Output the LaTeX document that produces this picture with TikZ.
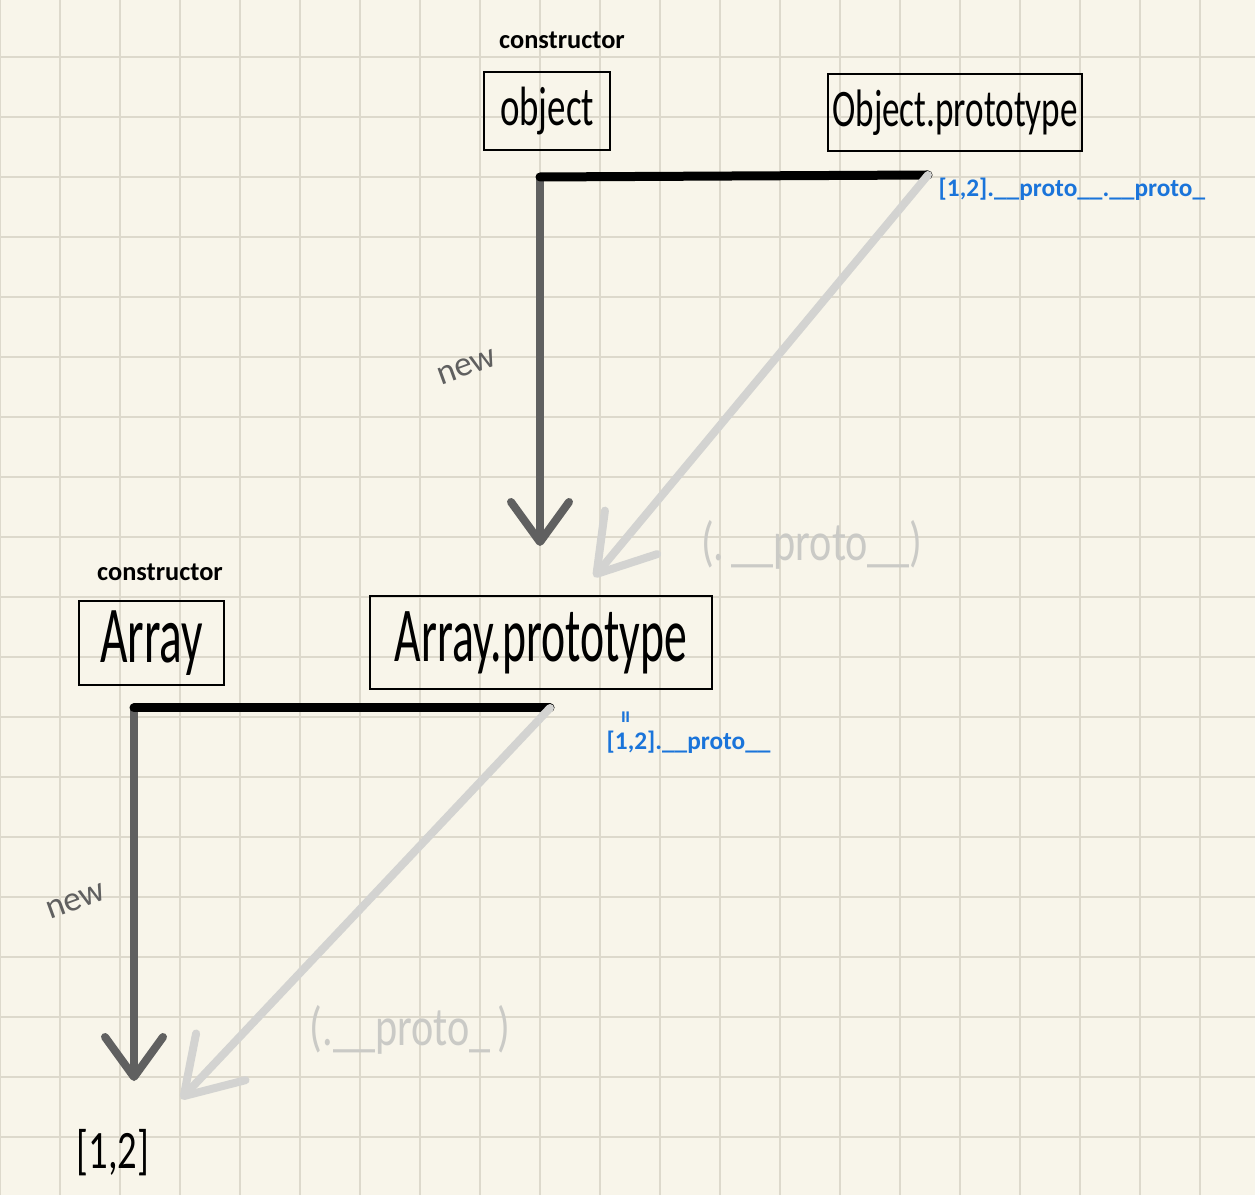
\documentclass[tikz,border=0pt]{standalone}
\usepackage{fontspec}
\setmainfont{Carlito}
\usepackage{graphicx}
\usepackage{xcolor}
\usetikzlibrary{arrows.meta,positioning}
\definecolor{paper}{HTML}{F8F5EA}
\definecolor{gridgray}{HTML}{DDD9CC}
\definecolor{newgray}{HTML}{606060}
\definecolor{protogray}{HTML}{D3D3D1}
\definecolor{ghostgray}{HTML}{CACAC6}
\definecolor{noteblue}{HTML}{1A74DA}
\newcommand{\tall}[2][1.5]{\scalebox{1}[#1]{#2}}

\begin{document}
\begin{tikzpicture}[x=0.1mm, y=-0.1mm,
  gridline/.style={gridgray, line width=0.2mm},
  box/.style={draw, line width=0.25mm, inner sep=0pt},
  ctor/.style={font=\fontsize{7.5}{9}\selectfont\bfseries},
  hint/.style={newgray, font=\fontsize{10}{12}\selectfont},
  ghost/.style={ghostgray, font=\fontsize{12}{14}\selectfont},
  note/.style={noteblue, font=\fontsize{7.2}{9}\selectfont\bfseries, inner sep=0pt},
  link/.style={line width=0.9mm, line cap=round},
  newarrow/.style={newgray, line width=0.8mm, -{Straight Barb[length=4mm, width=5.8mm, round]}},
  protoarrow/.style={protogray, line width=0.8mm, line cap=round, -{Straight Barb[length=5.4mm, width=6.8mm, round]}}
]
\useasboundingbox (0,0) rectangle (1255,1195);
% Paper
\fill[paper] (0,0) rectangle (1255,1195);
\foreach \x in {0,60,...,1200}
  \draw[gridline] (\x,0) -- (\x,1195);
\foreach \y in {57,117,...,1137}
  \draw[gridline] (0,\y) -- (1255,\y);

% Top row
\node[ctor] (ctorobj) at (562,40) {constructor};
\node[box, minimum width=12.6mm, minimum height=7.8mm] (obj) at (547,111)
  {\fontsize{10.5}{12}\selectfont\tall{object}};
\node[box, minimum width=25.4mm, minimum height=7.7mm] (objproto) at (955,112.5)
  {\fontsize{10}{12}\selectfont\tall{Object.prototype}};

% Middle row
\node[ctor] (ctorarr) at (160,572) {constructor};
\node[box, minimum width=14.5mm, minimum height=8.4mm] (arr) at (151.5,643)
  {\fontsize{13.5}{15}\selectfont\tall[1.7]{Array}};
\node[box, minimum width=34.2mm, minimum height=9.3mm] (arrproto) at (541,642.5)
  {\fontsize{13}{15}\selectfont\tall[1.7]{Array.prototype}};

% Bottom
\node[font=\fontsize{11}{13}\selectfont] (arr12) at (113,1153) {\tall[1.4]{[1,2]}};

% Fork points and arrow ends
\coordinate (objfork) at (540,177);
\coordinate (objtail) at (928,175);
\coordinate (newin)   at (540,546);
\coordinate (protoin) at (594,577);
\coordinate (arrfork) at (134,708);
\coordinate (arrtail) at (550,708);
\coordinate (arrin)   at (134,1081);
\coordinate (elemin)  at (181,1099);

% Links
\draw[newarrow] (objfork) -- (newin);
\draw[link] (objfork) -- (objtail);
\draw[protoarrow] (objtail) -- (protoin);
\draw[newarrow] (arrfork) -- (arrin);
\draw[link] (arrfork) -- (arrtail);
\draw[protoarrow] (arrtail) -- (elemin);

% Labels
\node[hint, rotate=20] (newA) at (467,367) {new};
\node[hint, rotate=20] (newB) at (76,901) {new};
\node[ghost] (ghostA) at (812,545) {\tall[1.3]{(.\,\_\_proto\_\_)}};
\node[ghost] (ghostB) at (410,1030) {\tall[1.3]{(.\_\_proto\_\,)}};
\node[note, anchor=west] (chainA) at (938,189) {[1,2].\_\_proto\_\_.\_\_proto\_};
\node[note, rotate=90] (ditto) at (628,717) {=};
\node[note, anchor=west] (chainB) at (606,742) {[1,2].\_\_proto\_\_};
\end{tikzpicture}
\end{document}
